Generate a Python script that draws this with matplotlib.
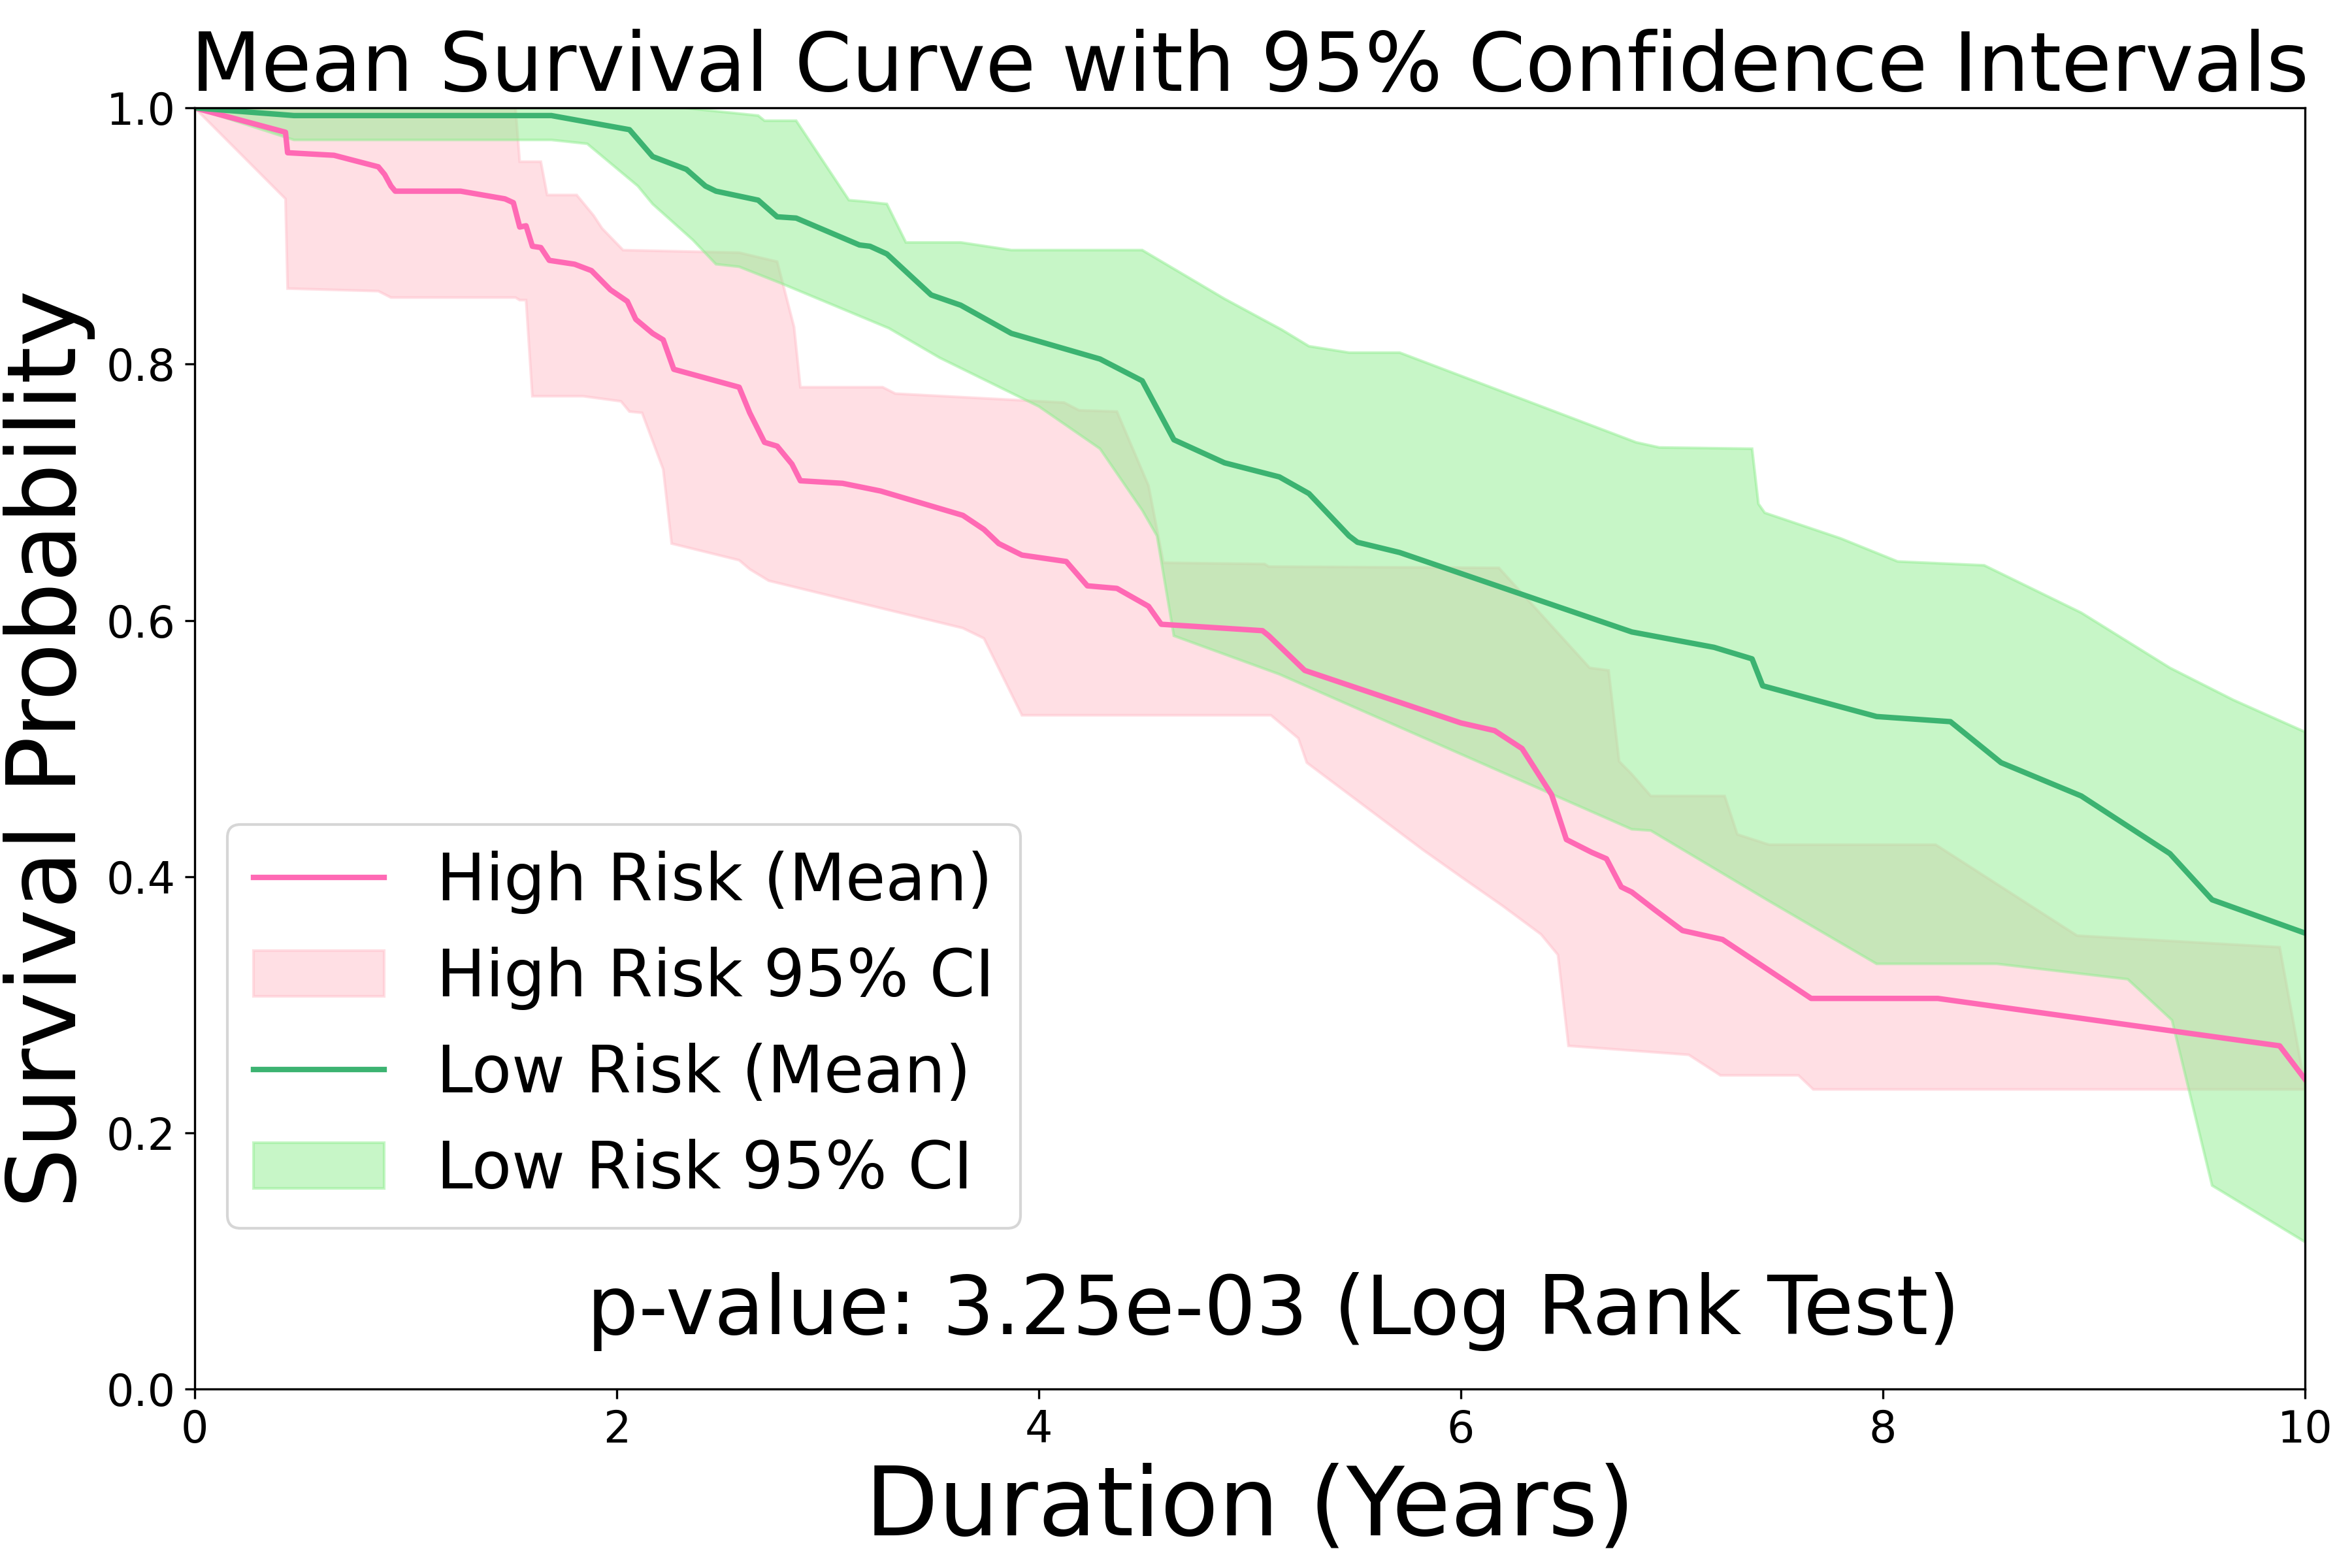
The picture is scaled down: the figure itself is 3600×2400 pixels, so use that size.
import matplotlib
matplotlib.use("Agg")
import matplotlib.pyplot as plt
import numpy as np

# High risk group: mean curve and 95% CI bounds
high_t = [0, 0.43, 0.44, 0.66, 0.87, 0.90, 0.93, 0.95, 1.26, 1.47, 1.51, 1.54, 1.57,
          1.60, 1.64, 1.68, 1.80, 1.88, 1.97, 2.05, 2.09, 2.17, 2.22, 2.27, 2.58, 2.63,
          2.70, 2.76, 2.83, 2.87, 3.07, 3.25, 3.64, 3.74, 3.81, 3.92, 4.13, 4.23, 4.37,
          4.52, 4.58, 5.06, 5.09, 5.26, 6.00, 6.16, 6.29, 6.43, 6.50, 6.62, 6.69, 6.76,
          6.81, 6.92, 7.05, 7.24, 7.66, 8.26, 9.88, 10.0]
high_mean = [1.0, 0.981, 0.965, 0.963, 0.954, 0.948, 0.939, 0.935, 0.935, 0.929, 0.926,
             0.907, 0.908, 0.892, 0.891, 0.881, 0.878, 0.873, 0.858, 0.849, 0.835, 0.824,
             0.819, 0.796, 0.782, 0.762, 0.739, 0.736, 0.722, 0.709, 0.707, 0.701, 0.682,
             0.671, 0.660, 0.651, 0.646, 0.627, 0.625, 0.611, 0.597, 0.592, 0.588, 0.561,
             0.520, 0.514, 0.500, 0.464, 0.429, 0.419, 0.414, 0.392, 0.388, 0.374, 0.358,
             0.351, 0.305, 0.305, 0.268, 0.242]

high_up_t = [0, 1.52, 1.54, 1.64, 1.67, 1.81, 1.89, 1.93, 2.03, 2.58, 2.76, 2.84, 2.87,
             3.26, 3.32, 4.12, 4.19, 4.37, 4.52, 4.59, 5.07, 5.09, 6.18, 6.61, 6.70, 6.75,
             6.81, 6.90, 7.25, 7.31, 7.46, 8.25, 8.92, 9.88, 10.0]
high_up = [1.0, 1.0, 0.958, 0.958, 0.932, 0.932, 0.916, 0.906, 0.889, 0.887, 0.880, 0.829,
           0.782, 0.782, 0.777, 0.770, 0.764, 0.763, 0.705, 0.645, 0.644, 0.642, 0.641,
           0.563, 0.561, 0.490, 0.480, 0.463, 0.463, 0.433, 0.425, 0.425, 0.354, 0.345, 0.237]

high_lo_t = [0, 0.43, 0.44, 0.87, 0.93, 1.52, 1.54, 1.57, 1.60, 1.84, 2.02, 2.06, 2.12,
             2.22, 2.26, 2.58, 2.63, 2.72, 3.64, 3.74, 3.80, 3.92, 5.10, 5.23, 5.27, 5.82,
             6.00, 6.20, 6.38, 6.46, 6.51, 7.08, 7.23, 7.60, 7.67, 10.0]
high_lo = [1.0, 0.929, 0.859, 0.857, 0.852, 0.852, 0.850, 0.850, 0.775, 0.775, 0.771, 0.763,
           0.762, 0.718, 0.660, 0.647, 0.640, 0.631, 0.594, 0.586, 0.566, 0.526, 0.526,
           0.508, 0.489, 0.421, 0.400, 0.377, 0.355, 0.339, 0.268, 0.261, 0.245, 0.245,
           0.234, 0.234]

# Low risk group
low_t = [0, 0.47, 1.69, 2.06, 2.17, 2.33, 2.42, 2.47, 2.67, 2.76, 2.85, 3.15, 3.20, 3.28,
         3.49, 3.63, 3.87, 4.29, 4.49, 4.64, 4.88, 5.14, 5.28, 5.47, 5.51, 5.71, 6.81, 7.20,
         7.38, 7.43, 7.97, 8.32, 8.56, 8.94, 9.36, 9.56, 10.0]
low_mean = [1.0, 0.994, 0.994, 0.983, 0.962, 0.952, 0.939, 0.935, 0.928, 0.915, 0.914,
            0.893, 0.892, 0.886, 0.854, 0.846, 0.824, 0.804, 0.787, 0.741, 0.723, 0.712,
            0.699, 0.666, 0.661, 0.653, 0.591, 0.579, 0.570, 0.549, 0.525, 0.521, 0.489,
            0.463, 0.418, 0.382, 0.356]

low_up_t = [0, 2.32, 2.67, 2.70, 2.85, 3.10, 3.17, 3.28, 3.37, 3.63, 3.87, 4.49, 4.88, 5.15,
            5.28, 5.47, 5.71, 6.83, 6.94, 7.38, 7.41, 7.44, 7.80, 8.07, 8.48, 8.94, 9.36,
            9.66, 10.0]
low_up = [1.0, 1.0, 0.994, 0.990, 0.990, 0.928, 0.927, 0.925, 0.895, 0.895, 0.889, 0.889,
          0.851, 0.827, 0.814, 0.809, 0.809, 0.739, 0.735, 0.734, 0.691, 0.684, 0.664,
          0.646, 0.643, 0.606, 0.563, 0.538, 0.513]

low_lo_t = [0, 0.47, 1.69, 1.86, 2.10, 2.17, 2.36, 2.47, 2.58, 2.78, 3.29, 3.53, 4.00, 4.29,
            4.49, 4.56, 4.64, 5.14, 6.81, 6.90, 7.45, 7.97, 8.54, 9.16, 9.37, 9.56, 10.0]
low_lo = [1.0, 0.975, 0.975, 0.972, 0.939, 0.925, 0.897, 0.878, 0.876, 0.863, 0.828, 0.805,
          0.767, 0.734, 0.686, 0.666, 0.588, 0.558, 0.437, 0.436, 0.382, 0.332, 0.332,
          0.320, 0.288, 0.159, 0.115]

p_text = 'p-value: 3.25e-03 (Log Rank Test)'

fig, ax = plt.subplots(figsize=(12, 8), dpi=300)
fig.subplots_adjust(left=0.0828, right=0.98, top=0.9312, bottom=0.114)


def band(t_up, y_up, t_lo, y_lo):
    # polygon: upper bound forward, lower bound backward
    xs = np.concatenate([t_up, t_lo[::-1]])
    ys = np.concatenate([y_up, y_lo[::-1]])
    return xs, ys


hx, hy = band(high_up_t, high_up, high_lo_t, high_lo)
lx, ly = band(low_up_t, low_up, low_lo_t, low_lo)

h_ci = ax.fill(hx, hy, facecolor='pink', edgecolor='pink', alpha=0.5, linewidth=1,
               label='High Risk 95% CI')[0]
l_ci = ax.fill(lx, ly, facecolor='lightgreen', edgecolor='lightgreen', alpha=0.5,
               linewidth=1, label='Low Risk 95% CI')[0]
h_line, = ax.plot(high_t, high_mean, color='hotpink', linewidth=2, label='High Risk (Mean)')
l_line, = ax.plot(low_t, low_mean, color='mediumseagreen', linewidth=2, label='Low Risk (Mean)')

ax.set_xlim(0, 10)
ax.set_ylim(0, 1)
ax.set_xticks([0, 2, 4, 6, 8, 10])
ax.set_yticks([0.0, 0.2, 0.4, 0.6, 0.8, 1.0])
ax.tick_params(labelsize=16)

ax.set_title('Mean Survival Curve with 95% Confidence Intervals', fontsize=30)
ax.set_xlabel('Duration (Years)', fontsize=35)
ax.set_ylabel('Survival Probability', fontsize=35)

ax.legend(handles=[h_line, h_ci, l_line, l_ci], loc='lower left',
          bbox_to_anchor=(0, 0.1), fontsize=24)

ax.text(0.511, 0.043, p_text, transform=ax.transAxes, ha='center', va='baseline',
        fontsize=30)

fig.savefig('out.png', dpi=300)
